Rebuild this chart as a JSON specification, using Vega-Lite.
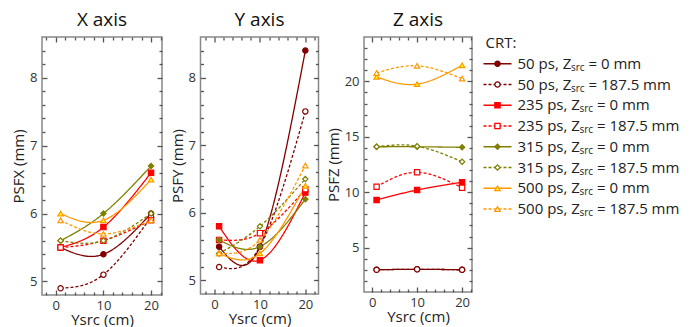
{
  "$schema": "https://vega.github.io/schema/vega-lite/v6.json",
  "padding": {"left": 10, "top": 10, "right": 0, "bottom": 0},
  "spacing": 4.5,
  "bounds": "full",
  "datasets": {
    "psf": [
      {"panel": "X", "series": "50 ps, 0 mm", "ysrc": 1, "psf": 5.5},
      {"panel": "X", "series": "50 ps, 0 mm", "ysrc": 10, "psf": 5.4},
      {"panel": "X", "series": "50 ps, 0 mm", "ysrc": 20, "psf": 6.0},
      {"panel": "X", "series": "50 ps, 187.5 mm", "ysrc": 1, "psf": 4.9},
      {"panel": "X", "series": "50 ps, 187.5 mm", "ysrc": 10, "psf": 5.1},
      {"panel": "X", "series": "50 ps, 187.5 mm", "ysrc": 20, "psf": 5.95},
      {"panel": "X", "series": "235 ps, 0 mm", "ysrc": 1, "psf": 5.5},
      {"panel": "X", "series": "235 ps, 0 mm", "ysrc": 10, "psf": 5.8},
      {"panel": "X", "series": "235 ps, 0 mm", "ysrc": 20, "psf": 6.6},
      {"panel": "X", "series": "235 ps, 187.5 mm", "ysrc": 1, "psf": 5.5},
      {"panel": "X", "series": "235 ps, 187.5 mm", "ysrc": 10, "psf": 5.6},
      {"panel": "X", "series": "235 ps, 187.5 mm", "ysrc": 20, "psf": 5.9},
      {"panel": "X", "series": "315 ps, 0 mm", "ysrc": 1, "psf": 5.6},
      {"panel": "X", "series": "315 ps, 0 mm", "ysrc": 10, "psf": 6.0},
      {"panel": "X", "series": "315 ps, 0 mm", "ysrc": 20, "psf": 6.7},
      {"panel": "X", "series": "315 ps, 187.5 mm", "ysrc": 1, "psf": 5.6},
      {"panel": "X", "series": "315 ps, 187.5 mm", "ysrc": 10, "psf": 5.6},
      {"panel": "X", "series": "315 ps, 187.5 mm", "ysrc": 20, "psf": 6.0},
      {"panel": "X", "series": "500 ps, 0 mm", "ysrc": 1, "psf": 6.0},
      {"panel": "X", "series": "500 ps, 0 mm", "ysrc": 10, "psf": 5.9},
      {"panel": "X", "series": "500 ps, 0 mm", "ysrc": 20, "psf": 6.5},
      {"panel": "X", "series": "500 ps, 187.5 mm", "ysrc": 1, "psf": 5.9},
      {"panel": "X", "series": "500 ps, 187.5 mm", "ysrc": 10, "psf": 5.7},
      {"panel": "X", "series": "500 ps, 187.5 mm", "ysrc": 20, "psf": 5.9},
      {"panel": "Y", "series": "50 ps, 0 mm", "ysrc": 1, "psf": 5.5},
      {"panel": "Y", "series": "50 ps, 0 mm", "ysrc": 10, "psf": 5.5},
      {"panel": "Y", "series": "50 ps, 0 mm", "ysrc": 20, "psf": 8.4},
      {"panel": "Y", "series": "50 ps, 187.5 mm", "ysrc": 1, "psf": 5.2},
      {"panel": "Y", "series": "50 ps, 187.5 mm", "ysrc": 10, "psf": 5.5},
      {"panel": "Y", "series": "50 ps, 187.5 mm", "ysrc": 20, "psf": 7.5},
      {"panel": "Y", "series": "235 ps, 0 mm", "ysrc": 1, "psf": 5.8},
      {"panel": "Y", "series": "235 ps, 0 mm", "ysrc": 10, "psf": 5.3},
      {"panel": "Y", "series": "235 ps, 0 mm", "ysrc": 20, "psf": 6.3},
      {"panel": "Y", "series": "235 ps, 187.5 mm", "ysrc": 1, "psf": 5.6},
      {"panel": "Y", "series": "235 ps, 187.5 mm", "ysrc": 10, "psf": 5.7},
      {"panel": "Y", "series": "235 ps, 187.5 mm", "ysrc": 20, "psf": 6.35},
      {"panel": "Y", "series": "315 ps, 0 mm", "ysrc": 1, "psf": 5.6},
      {"panel": "Y", "series": "315 ps, 0 mm", "ysrc": 10, "psf": 5.5},
      {"panel": "Y", "series": "315 ps, 0 mm", "ysrc": 20, "psf": 6.2},
      {"panel": "Y", "series": "315 ps, 187.5 mm", "ysrc": 1, "psf": 5.4},
      {"panel": "Y", "series": "315 ps, 187.5 mm", "ysrc": 10, "psf": 5.8},
      {"panel": "Y", "series": "315 ps, 187.5 mm", "ysrc": 20, "psf": 6.5},
      {"panel": "Y", "series": "500 ps, 0 mm", "ysrc": 1, "psf": 5.4},
      {"panel": "Y", "series": "500 ps, 0 mm", "ysrc": 10, "psf": 5.4},
      {"panel": "Y", "series": "500 ps, 0 mm", "ysrc": 20, "psf": 6.4},
      {"panel": "Y", "series": "500 ps, 187.5 mm", "ysrc": 1, "psf": 5.4},
      {"panel": "Y", "series": "500 ps, 187.5 mm", "ysrc": 10, "psf": 5.6},
      {"panel": "Y", "series": "500 ps, 187.5 mm", "ysrc": 20, "psf": 6.7},
      {"panel": "Z", "series": "50 ps, 0 mm", "ysrc": 1, "psf": 3.0},
      {"panel": "Z", "series": "50 ps, 0 mm", "ysrc": 10, "psf": 3.05},
      {"panel": "Z", "series": "50 ps, 0 mm", "ysrc": 20, "psf": 3.0},
      {"panel": "Z", "series": "50 ps, 187.5 mm", "ysrc": 1, "psf": 3.0},
      {"panel": "Z", "series": "50 ps, 187.5 mm", "ysrc": 10, "psf": 3.05},
      {"panel": "Z", "series": "50 ps, 187.5 mm", "ysrc": 20, "psf": 3.0},
      {"panel": "Z", "series": "235 ps, 0 mm", "ysrc": 1, "psf": 9.3},
      {"panel": "Z", "series": "235 ps, 0 mm", "ysrc": 10, "psf": 10.2},
      {"panel": "Z", "series": "235 ps, 0 mm", "ysrc": 20, "psf": 10.9},
      {"panel": "Z", "series": "235 ps, 187.5 mm", "ysrc": 1, "psf": 10.5},
      {"panel": "Z", "series": "235 ps, 187.5 mm", "ysrc": 10, "psf": 11.8},
      {"panel": "Z", "series": "235 ps, 187.5 mm", "ysrc": 20, "psf": 10.4},
      {"panel": "Z", "series": "315 ps, 0 mm", "ysrc": 1, "psf": 14.1},
      {"panel": "Z", "series": "315 ps, 0 mm", "ysrc": 10, "psf": 14.1},
      {"panel": "Z", "series": "315 ps, 0 mm", "ysrc": 20, "psf": 14.05},
      {"panel": "Z", "series": "315 ps, 187.5 mm", "ysrc": 1, "psf": 14.1},
      {"panel": "Z", "series": "315 ps, 187.5 mm", "ysrc": 10, "psf": 14.15},
      {"panel": "Z", "series": "315 ps, 187.5 mm", "ysrc": 20, "psf": 12.75},
      {"panel": "Z", "series": "500 ps, 0 mm", "ysrc": 1, "psf": 20.4},
      {"panel": "Z", "series": "500 ps, 0 mm", "ysrc": 10, "psf": 19.75},
      {"panel": "Z", "series": "500 ps, 0 mm", "ysrc": 20, "psf": 21.45},
      {"panel": "Z", "series": "500 ps, 187.5 mm", "ysrc": 1, "psf": 20.75},
      {"panel": "Z", "series": "500 ps, 187.5 mm", "ysrc": 10, "psf": 21.4},
      {"panel": "Z", "series": "500 ps, 187.5 mm", "ysrc": 20, "psf": 20.25}
    ],
    "legend": [
      {"series": "CRT:", "speed": "", "p1": "CRT:", "sub": "", "p3": ""},
      {"series": "50 ps, 0 mm", "speed": "50 ps", "p1": "50 ps, Z", "sub": "src", "p3": "= 0 mm"},
      {"series": "50 ps, 187.5 mm", "speed": "50 ps", "p1": "50 ps, Z", "sub": "src", "p3": "= 187.5 mm"},
      {"series": "235 ps, 0 mm", "speed": "235 ps", "p1": "235 ps, Z", "sub": "src", "p3": "= 0 mm"},
      {"series": "235 ps, 187.5 mm", "speed": "235 ps", "p1": "235 ps, Z", "sub": "src", "p3": "= 187.5 mm"},
      {"series": "315 ps, 0 mm", "speed": "315 ps", "p1": "315 ps, Z", "sub": "src", "p3": "= 0 mm"},
      {"series": "315 ps, 187.5 mm", "speed": "315 ps", "p1": "315 ps, Z", "sub": "src", "p3": "= 187.5 mm"},
      {"series": "500 ps, 0 mm", "speed": "500 ps", "p1": "500 ps, Z", "sub": "src", "p3": "= 0 mm"},
      {"series": "500 ps, 187.5 mm", "speed": "500 ps", "p1": "500 ps, Z", "sub": "src", "p3": "= 187.5 mm"}
    ]
  },
  "hconcat": [
    {
      "width": 120, "height": 258,
      "title": "X axis",
      "data": {"name": "psf"},
      "transform": [{"filter": "datum.panel === 'X'"}],
      "layer": [
        {
          "mark": {"type": "line", "interpolate": "natural", "strokeWidth": 1.3},
          "encoding": {
            "x": {"field": "ysrc", "type": "quantitative", "scale": {"domain": [-2.9, 22.3], "nice": false, "zero": false},
                  "axis": {"orient": "bottom", "values": [0, 10, 20], "ticks": true, "tickSize": 5, "offset": -5, "labelPadding": 4, "title": "Ysrc (cm)", "titlePadding": 0}},
            "y": {"field": "psf", "type": "quantitative", "scale": {"domain": [4.8, 8.6], "nice": false, "zero": false},
                  "axis": {"orient": "left", "values": [5, 6, 7, 8], "ticks": true, "tickSize": 5, "offset": -5, "labelPadding": 5, "title": "PSFX (mm)", "titlePadding": 3}},
            "stroke": {"field": "series", "type": "nominal", "legend": null, "scale": {"domain": ["50 ps, 0 mm","50 ps, 187.5 mm","235 ps, 0 mm","235 ps, 187.5 mm","315 ps, 0 mm","315 ps, 187.5 mm","500 ps, 0 mm","500 ps, 187.5 mm"], "range": ["#800000","#800000","#ff0000","#ff0000","#808000","#808000","#ff9900","#ff9900"]}},
            "strokeDash": {"field": "series", "type": "nominal", "legend": null, "scale": {"domain": ["50 ps, 0 mm","50 ps, 187.5 mm","235 ps, 0 mm","235 ps, 187.5 mm","315 ps, 0 mm","315 ps, 187.5 mm","500 ps, 0 mm","500 ps, 187.5 mm"], "range": [[1,0],[3,2],[1,0],[3,2],[1,0],[3,2],[1,0],[3,2]]}},
            "detail": {"field": "series"}
          }
        },
        {
          "mark": {"type": "point", "filled": true, "opacity": 1, "strokeWidth": 1.2},
          "encoding": {
            "x": {"field": "ysrc", "type": "quantitative", "scale": {"domain": [-2.9, 22.3], "nice": false, "zero": false}, "axis": null},
            "y": {"field": "psf", "type": "quantitative", "scale": {"domain": [4.8, 8.6], "nice": false, "zero": false}, "axis": null},
            "stroke": {"field": "series", "type": "nominal", "legend": null, "scale": {"domain": ["50 ps, 0 mm","50 ps, 187.5 mm","235 ps, 0 mm","235 ps, 187.5 mm","315 ps, 0 mm","315 ps, 187.5 mm","500 ps, 0 mm","500 ps, 187.5 mm"], "range": ["#800000","#800000","#ff0000","#ff0000","#808000","#808000","#ff9900","#ff9900"]}},
            "fill": {"field": "series", "type": "nominal", "legend": null, "scale": {"domain": ["50 ps, 0 mm","50 ps, 187.5 mm","235 ps, 0 mm","235 ps, 187.5 mm","315 ps, 0 mm","315 ps, 187.5 mm","500 ps, 0 mm","500 ps, 187.5 mm"], "range": ["#800000","#ffffff","#ff0000","#ffffff","#808000","#ffffff","#ffff00","#ffffff"]}},
            "shape": {"field": "series", "type": "nominal", "legend": null, "scale": {"domain": ["50 ps, 0 mm","50 ps, 187.5 mm","235 ps, 0 mm","235 ps, 187.5 mm","315 ps, 0 mm","315 ps, 187.5 mm","500 ps, 0 mm","500 ps, 187.5 mm"], "range": ["circle","circle","square","square","diamond","diamond","triangle-up","triangle-up"]}},
            "size": {"field": "series", "type": "nominal", "legend": null, "scale": {"domain": ["50 ps, 0 mm","50 ps, 187.5 mm","235 ps, 0 mm","235 ps, 187.5 mm","315 ps, 0 mm","315 ps, 187.5 mm","500 ps, 0 mm","500 ps, 187.5 mm"], "range": [28,28,28,28,42,42,38,38]}}
          }
        },
        {
          "mark": {"type": "point", "opacity": 0},
          "encoding": {
            "x": {"field": "ysrc", "type": "quantitative", "scale": {"domain": [-2.9, 22.3], "nice": false, "zero": false},
                  "axis": {"orient": "bottom", "values": [-2,2,4,6,8,12,14,16,18,22], "labels": false, "title": null, "ticks": true, "tickSize": 3, "offset": -3}},
            "y": {"field": "psf", "type": "quantitative", "scale": {"domain": [4.8, 8.6], "nice": false, "zero": false},
                  "axis": {"orient": "left", "values": [5.2,5.4,5.6,5.8,6.2,6.4,6.6,6.8,7.2,7.4,7.6,7.8,8.2,8.4], "labels": false, "title": null, "ticks": true, "tickSize": 3, "offset": -3}}
          }
        },
        {
          "mark": {"type": "point", "opacity": 0},
          "encoding": {
            "x": {"field": "ysrc", "type": "quantitative", "scale": {"domain": [-2.9, 22.3], "nice": false, "zero": false},
                  "axis": {"orient": "top", "values": [0,10,20], "labels": false, "title": null, "ticks": true, "tickSize": 5, "offset": -5}},
            "y": {"field": "psf", "type": "quantitative", "scale": {"domain": [4.8, 8.6], "nice": false, "zero": false},
                  "axis": {"orient": "right", "values": [5,6,7,8], "labels": false, "title": null, "ticks": true, "tickSize": 5, "offset": -5}}
          }
        },
        {
          "mark": {"type": "point", "opacity": 0},
          "encoding": {
            "x": {"field": "ysrc", "type": "quantitative", "scale": {"domain": [-2.9, 22.3], "nice": false, "zero": false},
                  "axis": {"orient": "top", "values": [-2,2,4,6,8,12,14,16,18,22], "labels": false, "title": null, "ticks": true, "tickSize": 3, "offset": -3}},
            "y": {"field": "psf", "type": "quantitative", "scale": {"domain": [4.8, 8.6], "nice": false, "zero": false},
                  "axis": {"orient": "right", "values": [5.2,5.4,5.6,5.8,6.2,6.4,6.6,6.8,7.2,7.4,7.6,7.8,8.2,8.4], "labels": false, "title": null, "ticks": true, "tickSize": 3, "offset": -3}}
          }
        }
      ],
      "resolve": {"axis": {"x": "independent", "y": "independent"}}
    },
    {
      "width": 118, "height": 257,
      "title": "Y axis",
      "data": {"name": "psf"},
      "transform": [{"filter": "datum.panel === 'Y'"}],
      "layer": [
        {
          "mark": {"type": "line", "interpolate": "natural", "strokeWidth": 1.3},
          "encoding": {
            "x": {"field": "ysrc", "type": "quantitative", "scale": {"domain": [-3.1, 22.9], "nice": false, "zero": false},
                  "axis": {"orient": "bottom", "values": [0, 10, 20], "ticks": true, "tickSize": 5, "offset": -5, "labelPadding": 4, "title": "Ysrc (cm)", "titlePadding": 0}},
            "y": {"field": "psf", "type": "quantitative", "scale": {"domain": [4.8, 8.6], "nice": false, "zero": false},
                  "axis": {"orient": "left", "values": [5, 6, 7, 8], "ticks": true, "tickSize": 5, "offset": -5, "labelPadding": 5, "title": "PSFY (mm)", "titlePadding": 3}},
            "stroke": {"field": "series", "type": "nominal", "legend": null, "scale": {"domain": ["50 ps, 0 mm","50 ps, 187.5 mm","235 ps, 0 mm","235 ps, 187.5 mm","315 ps, 0 mm","315 ps, 187.5 mm","500 ps, 0 mm","500 ps, 187.5 mm"], "range": ["#800000","#800000","#ff0000","#ff0000","#808000","#808000","#ff9900","#ff9900"]}},
            "strokeDash": {"field": "series", "type": "nominal", "legend": null, "scale": {"domain": ["50 ps, 0 mm","50 ps, 187.5 mm","235 ps, 0 mm","235 ps, 187.5 mm","315 ps, 0 mm","315 ps, 187.5 mm","500 ps, 0 mm","500 ps, 187.5 mm"], "range": [[1,0],[3,2],[1,0],[3,2],[1,0],[3,2],[1,0],[3,2]]}},
            "detail": {"field": "series"}
          }
        },
        {
          "mark": {"type": "point", "filled": true, "opacity": 1, "strokeWidth": 1.2},
          "encoding": {
            "x": {"field": "ysrc", "type": "quantitative", "scale": {"domain": [-3.1, 22.9], "nice": false, "zero": false}, "axis": null},
            "y": {"field": "psf", "type": "quantitative", "scale": {"domain": [4.8, 8.6], "nice": false, "zero": false}, "axis": null},
            "stroke": {"field": "series", "type": "nominal", "legend": null, "scale": {"domain": ["50 ps, 0 mm","50 ps, 187.5 mm","235 ps, 0 mm","235 ps, 187.5 mm","315 ps, 0 mm","315 ps, 187.5 mm","500 ps, 0 mm","500 ps, 187.5 mm"], "range": ["#800000","#800000","#ff0000","#ff0000","#808000","#808000","#ff9900","#ff9900"]}},
            "fill": {"field": "series", "type": "nominal", "legend": null, "scale": {"domain": ["50 ps, 0 mm","50 ps, 187.5 mm","235 ps, 0 mm","235 ps, 187.5 mm","315 ps, 0 mm","315 ps, 187.5 mm","500 ps, 0 mm","500 ps, 187.5 mm"], "range": ["#800000","#ffffff","#ff0000","#ffffff","#808000","#ffffff","#ffff00","#ffffff"]}},
            "shape": {"field": "series", "type": "nominal", "legend": null, "scale": {"domain": ["50 ps, 0 mm","50 ps, 187.5 mm","235 ps, 0 mm","235 ps, 187.5 mm","315 ps, 0 mm","315 ps, 187.5 mm","500 ps, 0 mm","500 ps, 187.5 mm"], "range": ["circle","circle","square","square","diamond","diamond","triangle-up","triangle-up"]}},
            "size": {"field": "series", "type": "nominal", "legend": null, "scale": {"domain": ["50 ps, 0 mm","50 ps, 187.5 mm","235 ps, 0 mm","235 ps, 187.5 mm","315 ps, 0 mm","315 ps, 187.5 mm","500 ps, 0 mm","500 ps, 187.5 mm"], "range": [28,28,28,28,42,42,38,38]}}
          }
        },
        {
          "mark": {"type": "point", "opacity": 0},
          "encoding": {
            "x": {"field": "ysrc", "type": "quantitative", "scale": {"domain": [-3.1, 22.9], "nice": false, "zero": false},
                  "axis": {"orient": "bottom", "values": [-2,2,4,6,8,12,14,16,18,22], "labels": false, "title": null, "ticks": true, "tickSize": 3, "offset": -3}},
            "y": {"field": "psf", "type": "quantitative", "scale": {"domain": [4.8, 8.6], "nice": false, "zero": false},
                  "axis": {"orient": "left", "values": [5.2,5.4,5.6,5.8,6.2,6.4,6.6,6.8,7.2,7.4,7.6,7.8,8.2,8.4], "labels": false, "title": null, "ticks": true, "tickSize": 3, "offset": -3}}
          }
        },
        {
          "mark": {"type": "point", "opacity": 0},
          "encoding": {
            "x": {"field": "ysrc", "type": "quantitative", "scale": {"domain": [-3.1, 22.9], "nice": false, "zero": false},
                  "axis": {"orient": "top", "values": [0,10,20], "labels": false, "title": null, "ticks": true, "tickSize": 5, "offset": -5}},
            "y": {"field": "psf", "type": "quantitative", "scale": {"domain": [4.8, 8.6], "nice": false, "zero": false},
                  "axis": {"orient": "right", "values": [5,6,7,8], "labels": false, "title": null, "ticks": true, "tickSize": 5, "offset": -5}}
          }
        },
        {
          "mark": {"type": "point", "opacity": 0},
          "encoding": {
            "x": {"field": "ysrc", "type": "quantitative", "scale": {"domain": [-3.1, 22.9], "nice": false, "zero": false},
                  "axis": {"orient": "top", "values": [-2,2,4,6,8,12,14,16,18,22], "labels": false, "title": null, "ticks": true, "tickSize": 3, "offset": -3}},
            "y": {"field": "psf", "type": "quantitative", "scale": {"domain": [4.8, 8.6], "nice": false, "zero": false},
                  "axis": {"orient": "right", "values": [5.2,5.4,5.6,5.8,6.2,6.4,6.6,6.8,7.2,7.4,7.6,7.8,8.2,8.4], "labels": false, "title": null, "ticks": true, "tickSize": 3, "offset": -3}}
          }
        }
      ],
      "resolve": {"axis": {"x": "independent", "y": "independent"}}
    },
    {
      "width": 108, "height": 255,
      "title": "Z axis",
      "data": {"name": "psf"},
      "transform": [{"filter": "datum.panel === 'Z'"}],
      "layer": [
        {
          "mark": {"type": "line", "interpolate": "natural", "strokeWidth": 1.3},
          "encoding": {
            "x": {"field": "ysrc", "type": "quantitative", "scale": {"domain": [-1.8, 22.2], "nice": false, "zero": false},
                  "axis": {"orient": "bottom", "values": [0, 10, 20], "ticks": true, "tickSize": 5, "offset": -5, "labelPadding": 4, "title": "Ysrc (cm)", "titlePadding": 0}},
            "y": {"field": "psf", "type": "quantitative", "scale": {"domain": [1, 24], "nice": false, "zero": false},
                  "axis": {"orient": "left", "values": [5, 10, 15, 20], "ticks": true, "tickSize": 5, "offset": -5, "labelPadding": 5, "title": "PSFZ (mm)", "titlePadding": 3}},
            "stroke": {"field": "series", "type": "nominal", "legend": null, "scale": {"domain": ["50 ps, 0 mm","50 ps, 187.5 mm","235 ps, 0 mm","235 ps, 187.5 mm","315 ps, 0 mm","315 ps, 187.5 mm","500 ps, 0 mm","500 ps, 187.5 mm"], "range": ["#800000","#800000","#ff0000","#ff0000","#808000","#808000","#ff9900","#ff9900"]}},
            "strokeDash": {"field": "series", "type": "nominal", "legend": null, "scale": {"domain": ["50 ps, 0 mm","50 ps, 187.5 mm","235 ps, 0 mm","235 ps, 187.5 mm","315 ps, 0 mm","315 ps, 187.5 mm","500 ps, 0 mm","500 ps, 187.5 mm"], "range": [[1,0],[3,2],[1,0],[3,2],[1,0],[3,2],[1,0],[3,2]]}},
            "detail": {"field": "series"}
          }
        },
        {
          "mark": {"type": "point", "filled": true, "opacity": 1, "strokeWidth": 1.2},
          "encoding": {
            "x": {"field": "ysrc", "type": "quantitative", "scale": {"domain": [-1.8, 22.2], "nice": false, "zero": false}, "axis": null},
            "y": {"field": "psf", "type": "quantitative", "scale": {"domain": [1, 24], "nice": false, "zero": false}, "axis": null},
            "stroke": {"field": "series", "type": "nominal", "legend": null, "scale": {"domain": ["50 ps, 0 mm","50 ps, 187.5 mm","235 ps, 0 mm","235 ps, 187.5 mm","315 ps, 0 mm","315 ps, 187.5 mm","500 ps, 0 mm","500 ps, 187.5 mm"], "range": ["#800000","#800000","#ff0000","#ff0000","#808000","#808000","#ff9900","#ff9900"]}},
            "fill": {"field": "series", "type": "nominal", "legend": null, "scale": {"domain": ["50 ps, 0 mm","50 ps, 187.5 mm","235 ps, 0 mm","235 ps, 187.5 mm","315 ps, 0 mm","315 ps, 187.5 mm","500 ps, 0 mm","500 ps, 187.5 mm"], "range": ["#800000","#ffffff","#ff0000","#ffffff","#808000","#ffffff","#ffff00","#ffffff"]}},
            "shape": {"field": "series", "type": "nominal", "legend": null, "scale": {"domain": ["50 ps, 0 mm","50 ps, 187.5 mm","235 ps, 0 mm","235 ps, 187.5 mm","315 ps, 0 mm","315 ps, 187.5 mm","500 ps, 0 mm","500 ps, 187.5 mm"], "range": ["circle","circle","square","square","diamond","diamond","triangle-up","triangle-up"]}},
            "size": {"field": "series", "type": "nominal", "legend": null, "scale": {"domain": ["50 ps, 0 mm","50 ps, 187.5 mm","235 ps, 0 mm","235 ps, 187.5 mm","315 ps, 0 mm","315 ps, 187.5 mm","500 ps, 0 mm","500 ps, 187.5 mm"], "range": [28,28,28,28,42,42,38,38]}}
          }
        },
        {
          "mark": {"type": "point", "opacity": 0},
          "encoding": {
            "x": {"field": "ysrc", "type": "quantitative", "scale": {"domain": [-1.8, 22.2], "nice": false, "zero": false},
                  "axis": {"orient": "bottom", "values": [2,4,6,8,12,14,16,18,22], "labels": false, "title": null, "ticks": true, "tickSize": 3, "offset": -3}},
            "y": {"field": "psf", "type": "quantitative", "scale": {"domain": [1, 24], "nice": false, "zero": false},
                  "axis": {"orient": "left", "values": [2,3,4,6,7,8,9,11,12,13,14,16,17,18,19,21,22,23], "labels": false, "title": null, "ticks": true, "tickSize": 3, "offset": -3}}
          }
        },
        {
          "mark": {"type": "point", "opacity": 0},
          "encoding": {
            "x": {"field": "ysrc", "type": "quantitative", "scale": {"domain": [-1.8, 22.2], "nice": false, "zero": false},
                  "axis": {"orient": "top", "values": [0,10,20], "labels": false, "title": null, "ticks": true, "tickSize": 5, "offset": -5}},
            "y": {"field": "psf", "type": "quantitative", "scale": {"domain": [1, 24], "nice": false, "zero": false},
                  "axis": {"orient": "right", "values": [5,10,15,20], "labels": false, "title": null, "ticks": true, "tickSize": 5, "offset": -5}}
          }
        },
        {
          "mark": {"type": "point", "opacity": 0},
          "encoding": {
            "x": {"field": "ysrc", "type": "quantitative", "scale": {"domain": [-1.8, 22.2], "nice": false, "zero": false},
                  "axis": {"orient": "top", "values": [2,4,6,8,12,14,16,18,22], "labels": false, "title": null, "ticks": true, "tickSize": 3, "offset": -3}},
            "y": {"field": "psf", "type": "quantitative", "scale": {"domain": [1, 24], "nice": false, "zero": false},
                  "axis": {"orient": "right", "values": [2,3,4,6,7,8,9,11,12,13,14,16,17,18,19,21,22,23], "labels": false, "title": null, "ticks": true, "tickSize": 3, "offset": -3}}
          }
        }
      ],
      "resolve": {"axis": {"x": "independent", "y": "independent"}}
    },
    {
      "width": 210, "height": 258,
      "title": " ",
      "view": {"stroke": null},
      "data": {"name": "legend"},
      "layer": [
        {
          "transform": [{"filter": "datum.series !== 'CRT:'"}],
          "mark": {"type": "rule", "strokeWidth": 1.3},
          "encoding": {
            "x": {"datum": 5, "type": "quantitative", "scale": {"domain": [0, 210], "nice": false, "zero": false}, "axis": null},
            "x2": {"datum": 33},
            "y": {"field": "series", "type": "ordinal", "axis": null, "scale": {"type": "point", "padding": 0, "range": [6, 172], "domain": ["CRT:","50 ps, 0 mm","50 ps, 187.5 mm","235 ps, 0 mm","235 ps, 187.5 mm","315 ps, 0 mm","315 ps, 187.5 mm","500 ps, 0 mm","500 ps, 187.5 mm"]}},
            "stroke": {"field": "series", "type": "nominal", "legend": null, "scale": {"domain": ["50 ps, 0 mm","50 ps, 187.5 mm","235 ps, 0 mm","235 ps, 187.5 mm","315 ps, 0 mm","315 ps, 187.5 mm","500 ps, 0 mm","500 ps, 187.5 mm"], "range": ["#800000","#800000","#ff0000","#ff0000","#808000","#808000","#ff9900","#ff9900"]}},
            "strokeDash": {"field": "series", "type": "nominal", "legend": null, "scale": {"domain": ["50 ps, 0 mm","50 ps, 187.5 mm","235 ps, 0 mm","235 ps, 187.5 mm","315 ps, 0 mm","315 ps, 187.5 mm","500 ps, 0 mm","500 ps, 187.5 mm"], "range": [[1,0],[3,2],[1,0],[3,2],[1,0],[3,2],[1,0],[3,2]]}}
          }
        },
        {
          "transform": [{"filter": "datum.series !== 'CRT:'"}],
          "mark": {"type": "point", "filled": true, "opacity": 1, "strokeWidth": 1.3},
          "encoding": {
            "x": {"datum": 19, "type": "quantitative", "scale": {"domain": [0, 210], "nice": false, "zero": false}, "axis": null},
            "y": {"field": "series", "type": "ordinal", "axis": null, "scale": {"type": "point", "padding": 0, "range": [6, 172], "domain": ["CRT:","50 ps, 0 mm","50 ps, 187.5 mm","235 ps, 0 mm","235 ps, 187.5 mm","315 ps, 0 mm","315 ps, 187.5 mm","500 ps, 0 mm","500 ps, 187.5 mm"]}},
            "stroke": {"field": "series", "type": "nominal", "legend": null, "scale": {"domain": ["50 ps, 0 mm","50 ps, 187.5 mm","235 ps, 0 mm","235 ps, 187.5 mm","315 ps, 0 mm","315 ps, 187.5 mm","500 ps, 0 mm","500 ps, 187.5 mm"], "range": ["#800000","#800000","#ff0000","#ff0000","#808000","#808000","#ff9900","#ff9900"]}},
            "fill": {"field": "series", "type": "nominal", "legend": null, "scale": {"domain": ["50 ps, 0 mm","50 ps, 187.5 mm","235 ps, 0 mm","235 ps, 187.5 mm","315 ps, 0 mm","315 ps, 187.5 mm","500 ps, 0 mm","500 ps, 187.5 mm"], "range": ["#800000","#ffffff","#ff0000","#ffffff","#808000","#ffffff","#ffff00","#ffffff"]}},
            "shape": {"field": "series", "type": "nominal", "legend": null, "scale": {"domain": ["50 ps, 0 mm","50 ps, 187.5 mm","235 ps, 0 mm","235 ps, 187.5 mm","315 ps, 0 mm","315 ps, 187.5 mm","500 ps, 0 mm","500 ps, 187.5 mm"], "range": ["circle","circle","square","square","diamond","diamond","triangle-up","triangle-up"]}},
            "size": {"field": "series", "type": "nominal", "legend": null, "scale": {"domain": ["50 ps, 0 mm","50 ps, 187.5 mm","235 ps, 0 mm","235 ps, 187.5 mm","315 ps, 0 mm","315 ps, 187.5 mm","500 ps, 0 mm","500 ps, 187.5 mm"], "range": [40,30,40,30,60,50,56,46]}}
          }
        },
        {
          "transform": [{"filter": "datum.series === 'CRT:'"}],
          "mark": {"type": "text", "align": "left", "baseline": "middle", "fontSize": 15, "font": "Open Sans", "color": "#222222"},
          "encoding": {
            "x": {"datum": 7, "type": "quantitative", "scale": {"domain": [0, 210], "nice": false, "zero": false}, "axis": null},
            "y": {"field": "series", "type": "ordinal", "axis": null, "scale": {"type": "point", "padding": 0, "range": [6, 172], "domain": ["CRT:","50 ps, 0 mm","50 ps, 187.5 mm","235 ps, 0 mm","235 ps, 187.5 mm","315 ps, 0 mm","315 ps, 187.5 mm","500 ps, 0 mm","500 ps, 187.5 mm"]}},
            "text": {"field": "p1"}
          }
        },
        {
          "transform": [{"filter": "datum.series !== 'CRT:'"}],
          "mark": {"type": "text", "align": "left", "baseline": "middle", "fontSize": 15, "font": "Open Sans", "color": "#222222"},
          "encoding": {
            "x": {"datum": 39, "type": "quantitative", "scale": {"domain": [0, 210], "nice": false, "zero": false}, "axis": null},
            "y": {"field": "series", "type": "ordinal", "axis": null, "scale": {"type": "point", "padding": 0, "range": [6, 172], "domain": ["CRT:","50 ps, 0 mm","50 ps, 187.5 mm","235 ps, 0 mm","235 ps, 187.5 mm","315 ps, 0 mm","315 ps, 187.5 mm","500 ps, 0 mm","500 ps, 187.5 mm"]}},
            "text": {"field": "p1"}
          }
        },
        {
          "transform": [{"filter": "datum.speed === '50 ps'"}],
          "mark": {"type": "text", "align": "left", "baseline": "middle", "fontSize": 10, "font": "Open Sans", "color": "#222222", "dx": 53.5, "dy": 4},
          "encoding": {
            "x": {"datum": 39, "type": "quantitative", "scale": {"domain": [0, 210], "nice": false, "zero": false}, "axis": null},
            "y": {"field": "series", "type": "ordinal", "axis": null, "scale": {"type": "point", "padding": 0, "range": [6, 172], "domain": ["CRT:","50 ps, 0 mm","50 ps, 187.5 mm","235 ps, 0 mm","235 ps, 187.5 mm","315 ps, 0 mm","315 ps, 187.5 mm","500 ps, 0 mm","500 ps, 187.5 mm"]}},
            "text": {"field": "sub"}
          }
        },
        {
          "transform": [{"filter": "datum.speed !== '50 ps' && datum.series !== 'CRT:'"}],
          "mark": {"type": "text", "align": "left", "baseline": "middle", "fontSize": 10, "font": "Open Sans", "color": "#222222", "dx": 62, "dy": 4},
          "encoding": {
            "x": {"datum": 39, "type": "quantitative", "scale": {"domain": [0, 210], "nice": false, "zero": false}, "axis": null},
            "y": {"field": "series", "type": "ordinal", "axis": null, "scale": {"type": "point", "padding": 0, "range": [6, 172], "domain": ["CRT:","50 ps, 0 mm","50 ps, 187.5 mm","235 ps, 0 mm","235 ps, 187.5 mm","315 ps, 0 mm","315 ps, 187.5 mm","500 ps, 0 mm","500 ps, 187.5 mm"]}},
            "text": {"field": "sub"}
          }
        },
        {
          "transform": [{"filter": "datum.speed === '50 ps'"}],
          "mark": {"type": "text", "align": "left", "baseline": "middle", "fontSize": 15, "font": "Open Sans", "color": "#222222", "dx": 71},
          "encoding": {
            "x": {"datum": 39, "type": "quantitative", "scale": {"domain": [0, 210], "nice": false, "zero": false}, "axis": null},
            "y": {"field": "series", "type": "ordinal", "axis": null, "scale": {"type": "point", "padding": 0, "range": [6, 172], "domain": ["CRT:","50 ps, 0 mm","50 ps, 187.5 mm","235 ps, 0 mm","235 ps, 187.5 mm","315 ps, 0 mm","315 ps, 187.5 mm","500 ps, 0 mm","500 ps, 187.5 mm"]}},
            "text": {"field": "p3"}
          }
        },
        {
          "transform": [{"filter": "datum.speed !== '50 ps' && datum.series !== 'CRT:'"}],
          "mark": {"type": "text", "align": "left", "baseline": "middle", "fontSize": 15, "font": "Open Sans", "color": "#222222", "dx": 79.5},
          "encoding": {
            "x": {"datum": 39, "type": "quantitative", "scale": {"domain": [0, 210], "nice": false, "zero": false}, "axis": null},
            "y": {"field": "series", "type": "ordinal", "axis": null, "scale": {"type": "point", "padding": 0, "range": [6, 172], "domain": ["CRT:","50 ps, 0 mm","50 ps, 187.5 mm","235 ps, 0 mm","235 ps, 187.5 mm","315 ps, 0 mm","315 ps, 187.5 mm","500 ps, 0 mm","500 ps, 187.5 mm"]}},
            "text": {"field": "p3"}
          }
        }
      ]
    }
  ],
  "config": {
    "font": "Open Sans",
    "view": {"stroke": "#888888", "strokeWidth": 1.5},
    "axis": {"labelFont": "Open Sans", "labelFontSize": 13, "labelColor": "#333333", "titleFont": "Open Sans", "titleFontSize": 15, "titleFontWeight": "normal", "titleColor": "#222222", "grid": false, "domain": false, "minExtent": 0, "tickColor": "#555555", "tickWidth": 1.3, "zindex": 1},
    "axisY": {"minExtent": 0},
    "axisX": {"minExtent": 0},
    "title": {"font": "Open Sans", "fontSize": 19, "fontWeight": "normal", "color": "#111111", "offset": 6, "anchor": "middle"}
  }
}
